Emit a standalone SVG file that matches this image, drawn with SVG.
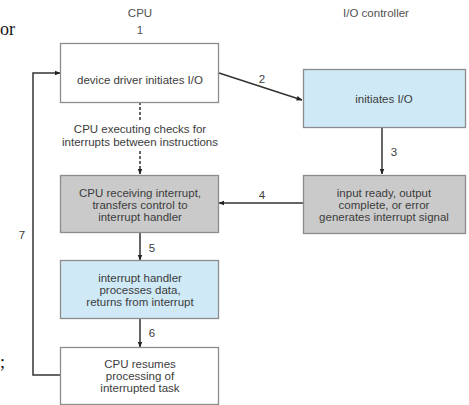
<svg xmlns="http://www.w3.org/2000/svg" width="469" height="405" viewBox="0 0 469 405">
<style>
.t{font-family:"Liberation Sans",Arial,sans-serif;font-size:11.5px;fill:#3c3c3c;text-anchor:middle}
.h{fill:#505050}
.b{stroke:#8c8c8c;stroke-width:1.3}
.w{fill:#ffffff}
.bl{fill:#cfe9f7}
.g{fill:#cacaca}
.c{stroke:#333;stroke-width:1.5;fill:none}
.s{font-family:"Liberation Serif","Times New Roman",serif;font-size:18px;fill:#111}
</style>
<defs>
<marker id="a" viewBox="0 0 10 10" refX="9" refY="5" markerWidth="6" markerHeight="6" markerUnits="userSpaceOnUse" orient="auto"><path d="M0,1L10,5L0,9z" fill="#222"/></marker>
</defs>
<rect width="469" height="405" fill="#fff"/>
<text class="s" x="0" y="35">or</text>
<text class="s" x="0" y="368">;</text>
<text class="t h" x="140" y="17">CPU</text>
<text class="t h" x="376" y="17">I/O controller</text>
<text class="t h" x="140" y="34">1</text>
<g id="connectors">
<path class="c" d="M219,73L302,100" marker-end="url(#a)"/>
<path class="c" d="M382,127L382,174" marker-end="url(#a)"/>
<path class="c" d="M304,203L219,203" marker-end="url(#a)"/>
<path class="c" d="M140,232L140,260" marker-end="url(#a)"/>
<path class="c" d="M140,318L140,347" marker-end="url(#a)"/>
<path class="c" d="M60,375L33,375L33,73L60,73" stroke="#555" marker-end="url(#a)"/>
<path class="c" d="M140,102L140,121" stroke-dasharray="3,2"/>
<path class="c" d="M140,151L140,174" stroke-dasharray="3,2" marker-end="url(#a)"/>
<text class="t" x="262" y="83">2</text>
<text class="t" x="394" y="156">3</text>
<text class="t" x="262" y="199">4</text>
<text class="t" x="152" y="252">5</text>
<text class="t" x="152" y="337">6</text>
<text class="t" x="22" y="239">7</text>
<text class="t" x="140" y="133">CPU executing checks for</text>
<text class="t" x="140" y="146">interrupts between instructions</text>
</g>
<g id="n1"><rect class="b w" x="60.5" y="43.5" width="158" height="59"/><text class="t" x="140" y="84">device driver initiates I/O</text></g>
<g id="n2"><rect class="b bl" x="303.5" y="69.5" width="162" height="58"/><text class="t" x="384" y="103">initiates I/O</text></g>
<g id="n3"><rect class="b g" x="60.5" y="175.5" width="158" height="57"/><text class="t" x="140" y="197">CPU receiving interrupt,</text><text class="t" x="140" y="209">transfers control to</text><text class="t" x="140" y="221">interrupt handler</text></g>
<g id="n4"><rect class="b g" x="303.5" y="175.5" width="162" height="58"/><text class="t" x="384" y="197">input ready, output</text><text class="t" x="384" y="209">complete, or error</text><text class="t" x="384" y="221">generates interrupt signal</text></g>
<g id="n5"><rect class="b bl" x="60.5" y="260.5" width="158" height="58"/><text class="t" x="140" y="282">interrupt handler</text><text class="t" x="140" y="294">processes data,</text><text class="t" x="140" y="306">returns from interrupt</text></g>
<g id="n6"><rect class="b w" x="60.5" y="347.5" width="158" height="57"/><text class="t" x="140" y="368">CPU resumes</text><text class="t" x="140" y="380">processing of</text><text class="t" x="140" y="392">interrupted task</text></g>
</svg>
